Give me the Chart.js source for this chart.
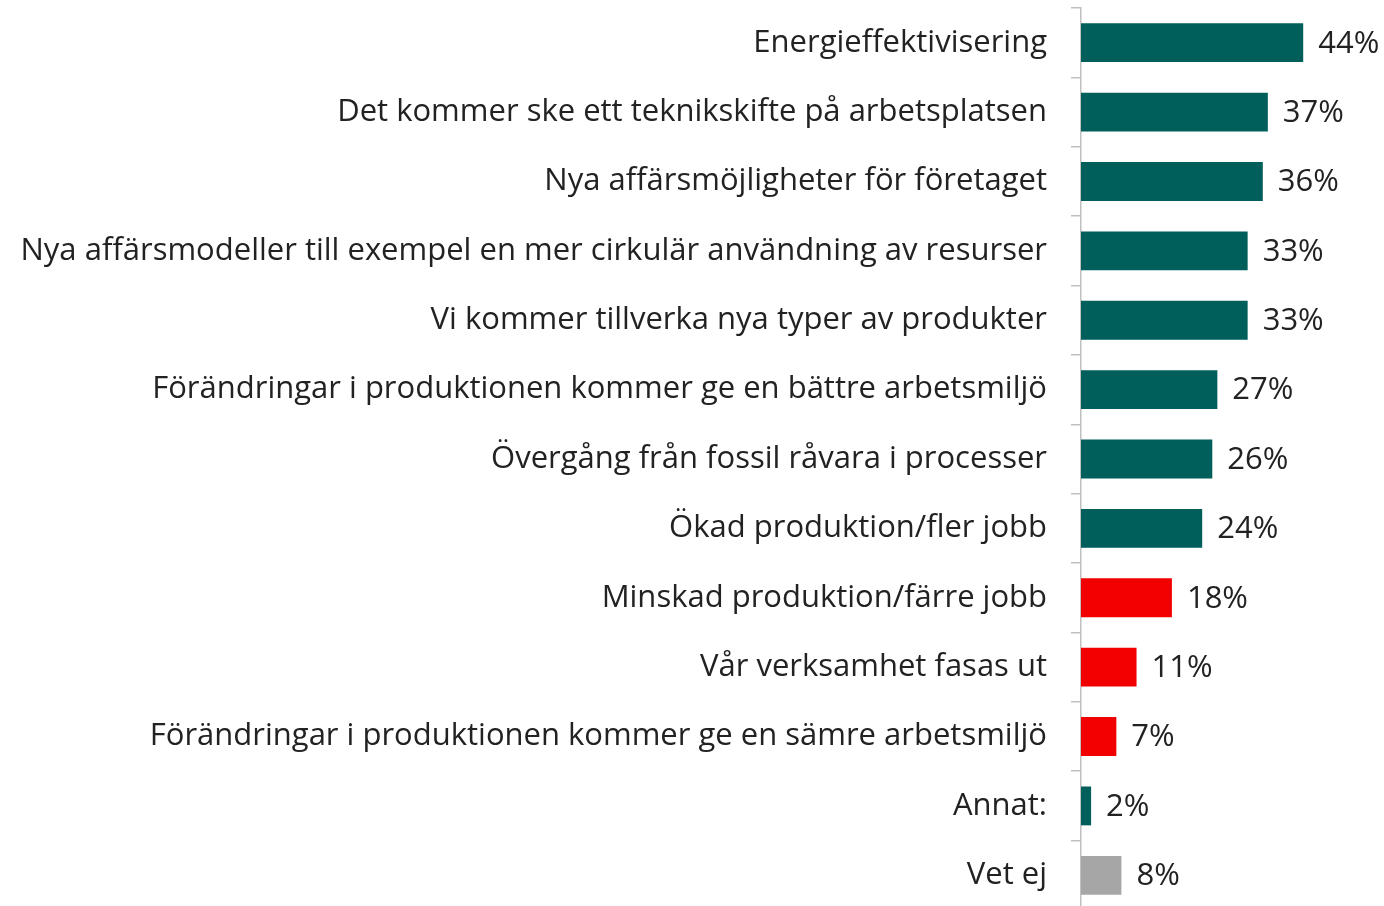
<!DOCTYPE html>
<html>
<head>
<meta charset="utf-8">
<script src="https://cdn.jsdelivr.net/npm/chart.js@4"></script>
<style>
  html, body { margin: 0; padding: 0; background: #fff; overflow: hidden; }
  #wrap { width: 1384px; height: 906px; overflow: hidden; }
</style>
</head>
<body>
<div id="wrap"><canvas id="myChart" width="1384" height="912"></canvas></div>
<script>
// data
const categories = [
    'Energieffektivisering',
    'Det kommer ske ett teknikskifte på arbetsplatsen',
    'Nya affärsmöjligheter för företaget',
    'Nya affärsmodeller till exempel en mer cirkulär användning av resurser',
    'Vi kommer tillverka nya typer av produkter',
    'Förändringar i produktionen kommer ge en bättre arbetsmiljö',
    'Övergång från fossil råvara i processer',
    'Ökad produktion/fler jobb',
    'Minskad produktion/färre jobb',
    'Vår verksamhet fasas ut',
    'Förändringar i produktionen kommer ge en sämre arbetsmiljö',
    'Annat:',
    'Vet ej'
];
const shares = [44, 37, 36, 33, 33, 27, 26, 24, 18, 11, 7, 2, 8];
const groups = ['pos', 'pos', 'pos', 'pos', 'pos', 'pos', 'pos', 'pos', 'neg', 'neg', 'neg', 'pos', 'none'];

const groupColors = { pos: '#005f5b', neg: '#f20000', none: '#a6a6a6' };
const textColor = '#222222';
const fontFamily = '"Open Sans", sans-serif';
const fontSize = 31;

// draws the "44%" labels next to each bar
const valueLabels = {
    id: 'valueLabels',
    afterDatasetsDraw(chart) {
        const ctx = chart.ctx;
        const meta = chart.getDatasetMeta(0);
        ctx.save();
        ctx.font = fontSize + 'px ' + fontFamily;
        ctx.fillStyle = textColor;
        ctx.textAlign = 'left';
        ctx.textBaseline = 'middle';
        meta.data.forEach((bar, i) => {
            ctx.fillText(shares[i] + '%', bar.x + 15, bar.y + 1);
        });
        ctx.restore();
    }
};

const ctx = document.getElementById('myChart').getContext('2d');
new Chart(ctx, {
    type: 'bar',
    data: {
        labels: categories,
        datasets: [{
            data: shares,
            backgroundColor: groups.map(g => groupColors[g]),
            borderWidth: 0,
            categoryPercentage: 1,
            barPercentage: 0.56
        }]
    },
    options: {
        indexAxis: 'y',
        responsive: false,
        animation: false,
        layout: { padding: { top: 8, bottom: 2, left: 0, right: 0 } },
        plugins: {
            legend: { display: false },
            tooltip: { enabled: false }
        },
        scales: {
            x: {
                display: false,
                min: 0,
                max: 60
            },
            y: {
                afterFit: (scale) => {
                    scale.width = 1081;
                    scale.paddingTop = 0;
                    scale.paddingBottom = 0;
                },
                grid: {
                    drawOnChartArea: false,
                    drawTicks: true,
                    tickLength: 10,
                    color: '#c0c0c0',
                    lineWidth: 1.5
                },
                border: { display: true, color: '#c0c0c0', width: 1.5 },
                ticks: {
                    color: textColor,
                    padding: 24,
                    autoSkip: false,
                    font: { family: fontFamily, size: fontSize }
                }
            }
        }
    },
    plugins: [valueLabels]
});
</script>
</body>
</html>
